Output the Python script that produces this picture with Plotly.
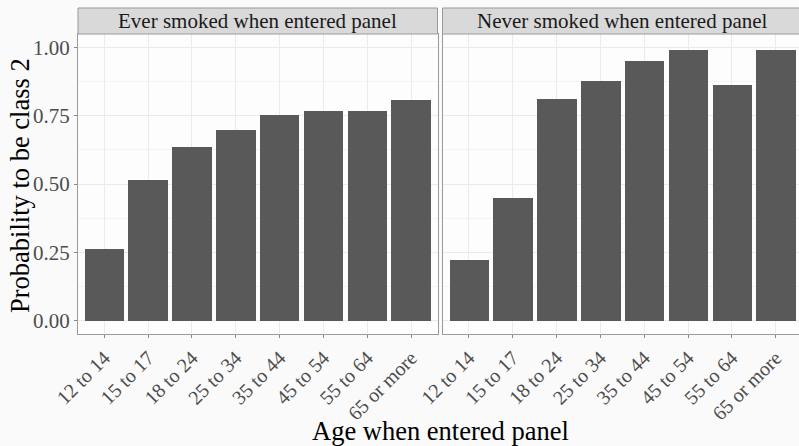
import plotly.graph_objects as go

categories = ["12 to 14", "15 to 17", "18 to 24", "25 to 34", "35 to 44", "45 to 54", "55 to 64", "65 or more"]
ever_smoked = [0.265, 0.517, 0.636, 0.700, 0.754, 0.768, 0.768, 0.809]
never_smoked = [0.223, 0.449, 0.813, 0.879, 0.951, 0.993, 0.865, 0.993]
panel_titles = ["Ever smoked when entered panel", "Never smoked when entered panel"]
y_ticks = [0.0, 0.25, 0.5, 0.75, 1.0]
y_ticklabels = ["0.00", "0.25", "0.50", "0.75", "1.00"]

W, H = 799, 446
FONT = "Liberation Serif, Times New Roman, serif"
BAR = "#595959"
BORDER = "#9A9A9A"
GRID = "#EBEBEB"
TICK_SIZE = 21
XTICK_SIZE = 20
TITLE_SIZE = 26.5

fig = go.Figure()
fig.add_trace(go.Bar(x=categories, y=ever_smoked, xaxis="x", yaxis="y",
                     marker=dict(color=BAR, line=dict(width=0)), width=0.9, showlegend=False))
fig.add_trace(go.Bar(x=categories, y=never_smoked, xaxis="x2", yaxis="y2",
                     marker=dict(color=BAR, line=dict(width=0)), width=0.9, showlegend=False))

px_left = (78.0, 437.5)
px_right = (442.5, 799.0)
unit = (px_left[1] - px_left[0]) / 8.2
right_max = -0.6 + (px_right[1] - px_right[0]) / unit

y_bottom_px, y_top_px = 334.4, 33.6
ydom = [(H - y_bottom_px) / H, (H - y_top_px) / H]

common_x = dict(type="category", categoryorder="array", categoryarray=categories,
                tickangle=-45, tickfont=dict(family=FONT, size=XTICK_SIZE, color="#4D4D4D"),
                showgrid=True, gridcolor=GRID, gridwidth=1, automargin=False,
                ticks="outside", ticklen=3, tickcolor="#888888",
                showline=True, linecolor=BORDER, linewidth=1, zeroline=False)
common_y = dict(range=[-0.05, 1.05], tickvals=y_ticks, ticktext=y_ticklabels,
                domain=ydom, showgrid=True, gridcolor=GRID, gridwidth=1, automargin=False,
                minor=dict(tickmode="array", tickvals=[0.125, 0.375, 0.625, 0.875],
                           showgrid=True, gridcolor="#F3F3F3", gridwidth=0.6),
                zeroline=False, showline=True, linecolor=BORDER, linewidth=1)

fig.update_layout(
    width=W, height=H,
    margin=dict(l=0, r=0, t=0, b=0, autoexpand=False),
    paper_bgcolor="#FAFAFA", plot_bgcolor="#FDFDFD",
    bargap=0,
    xaxis=dict(domain=[px_left[0] / W, px_left[1] / W], range=[-0.6, 7.6], mirror=True, anchor="y", **common_x),
    xaxis2=dict(domain=[px_right[0] / W, 1.0], range=[-0.6, right_max], mirror=True, anchor="y2", **common_x),
    yaxis=dict(anchor="x", mirror=True, ticks="outside", ticklen=3, tickcolor="#888888",
               tickfont=dict(family=FONT, size=TICK_SIZE, color="#4D4D4D"), **common_y),
    yaxis2=dict(anchor="x2", mirror=False, showticklabels=False, ticks="", **common_y),
)

# strips
strip_bottom = (H - 34.0) / H
strip_top = (H - 8.0) / H
strip_specs = [(px_left[0], px_left[1], px_left[1]), (px_right[0], W + 4, 803.0)]
for (x0, x1, xc_end), title in zip(strip_specs, panel_titles):
    fig.add_shape(type="rect", xref="paper", yref="paper",
                  x0=x0 / W, x1=x1 / W, y0=strip_bottom, y1=strip_top,
                  fillcolor="#D9D9D9", line=dict(color=BORDER, width=1), layer="above")
    fig.add_annotation(xref="paper", yref="paper", x=(x0 + xc_end) / 2 / W,
                       y=(strip_bottom + strip_top) / 2, text=title, showarrow=False,
                       font=dict(family=FONT, size=TICK_SIZE, color="#1A1A1A"),
                       xanchor="center", yanchor="middle")

# axis titles
fig.add_annotation(xref="paper", yref="paper", x=20 / W, y=(H - 186) / H,
                   text="Probability to be class 2", textangle=-90, showarrow=False,
                   font=dict(family=FONT, size=TITLE_SIZE, color="#000000"),
                   xanchor="center", yanchor="middle")
fig.add_annotation(xref="paper", yref="paper", x=440 / W, y=(H - 431) / H,
                   text="Age when entered panel", showarrow=False,
                   font=dict(family=FONT, size=TITLE_SIZE, color="#000000"),
                   xanchor="center", yanchor="middle")

fig.write_html("out.html", config={"displayModeBar": False},
               post_script="document.body.style.margin='0';document.body.style.overflow='hidden';document.body.style.background='#FAFAFA';")
